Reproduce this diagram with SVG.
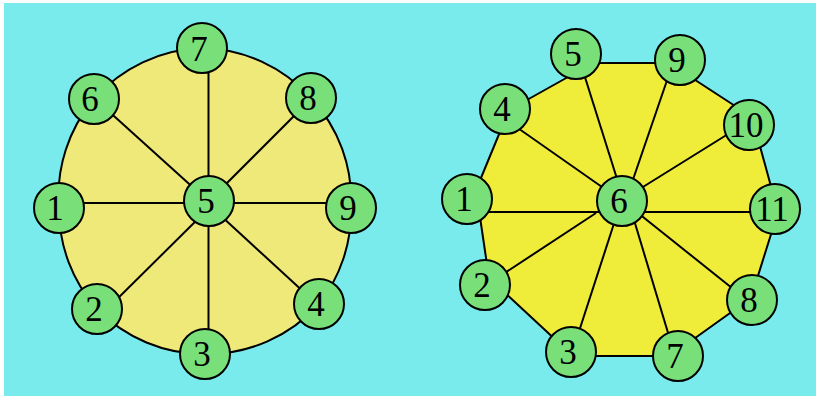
<svg xmlns="http://www.w3.org/2000/svg" width="816" height="396" viewBox="0 0 816 396">
<style>
.bg{fill:#79EBEC}
.shape{stroke:#000;stroke-width:2;stroke-linejoin:round}
.sp{stroke:#000;stroke-width:2;fill:none}
.nd circle{fill:#79E079;stroke:#000;stroke-width:2}
.nd text{font-family:"Liberation Serif","DejaVu Serif",serif;font-size:35px;fill:#000;text-anchor:middle}
</style>
<rect x="0" y="0" width="816" height="396" fill="#fff"/>
<rect class="bg" x="4" y="3" width="812" height="393"/>
<!-- left wheel body -->
<path id="left-body" class="shape" fill="#EFE97A" d="M202,48 A150,150 0 0 1 311,98 A150,150 0 0 1 351,208 A150,150 0 0 1 319,304 A150,150 0 0 1 205,354 A150,150 0 0 1 97,309 A150,150 0 0 1 59,208 A150,150 0 0 1 94,99 A150,150 0 0 1 202,48 Z"/>
<!-- right wheel body -->
<polygon id="right-body" class="shape" fill="#F0EC3A" points="593,63 669,63 752,117 778,212 751,298 670,356 573,356 489,278 476,190 509,110"/>
<g id="connectors">
  <line class="sp" x1="59" y1="203" x2="209" y2="203"/>
  <line class="sp" x1="209" y1="203" x2="351" y2="203"/>
  <line class="sp" x1="208.5" y1="48" x2="208.5" y2="201"/>
  <line class="sp" x1="208.5" y1="201" x2="208.5" y2="354"/>
  <line class="sp" x1="94" y1="98" x2="208" y2="201"/>
  <line class="sp" x1="208" y1="202" x2="311" y2="99"/>
  <line class="sp" x1="208" y1="209" x2="100" y2="316"/>
  <line class="sp" x1="208" y1="204" x2="319" y2="306"/>
  <line class="sp" x1="467" y1="212" x2="622" y2="212"/>
  <line class="sp" x1="622" y1="212" x2="775" y2="212"/>
  <line class="sp" x1="505" y1="119" x2="622" y2="201"/>
  <line class="sp" x1="578" y1="55" x2="624" y2="201"/>
  <line class="sp" x1="674" y1="60" x2="627" y2="197"/>
  <line class="sp" x1="749" y1="121" x2="622" y2="200"/>
  <line class="sp" x1="596" y1="213" x2="485" y2="286"/>
  <line class="sp" x1="620" y1="205" x2="572" y2="353"/>
  <line class="sp" x1="628" y1="200" x2="675" y2="356"/>
  <line class="sp" x1="628" y1="205" x2="752" y2="304"/>
</g>
<!-- left nodes -->
<g id="L5" class="nd"><circle cx="209" cy="201" r="25"/><text x="206" y="213">5</text></g>
<g id="L7" class="nd"><circle cx="202" cy="48" r="25"/><text x="199" y="61">7</text></g>
<g id="L6" class="nd"><circle cx="94" cy="99" r="25"/><text x="90" y="111">6</text></g>
<g id="L8" class="nd"><circle cx="311" cy="98" r="25"/><text x="308" y="110">8</text></g>
<g id="L1" class="nd"><circle cx="59" cy="208" r="25"/><text x="55" y="220">1</text></g>
<g id="L9" class="nd"><circle cx="351" cy="208" r="25"/><text x="348" y="220">9</text></g>
<g id="L2" class="nd"><circle cx="97" cy="309" r="25"/><text x="94" y="321">2</text></g>
<g id="L3" class="nd"><circle cx="205" cy="354" r="25"/><text x="202" y="366">3</text></g>
<g id="L4" class="nd"><circle cx="319" cy="304" r="25"/><text x="316" y="316">4</text></g>
<!-- right nodes -->
<g id="R6" class="nd"><circle cx="622" cy="201" r="25"/><text x="619" y="213">6</text></g>
<g id="R5" class="nd"><circle cx="576" cy="54" r="25"/><text x="573" y="66">5</text></g>
<g id="R9" class="nd"><circle cx="680" cy="60" r="25"/><text x="677" y="72">9</text></g>
<g id="R4" class="nd"><circle cx="505" cy="109" r="25"/><text x="502" y="121">4</text></g>
<g id="R10" class="nd"><circle cx="749" cy="125" r="25"/><text x="746" y="137">10</text></g>
<g id="R1" class="nd"><circle cx="467" cy="199" r="25"/><text x="464" y="211">1</text></g>
<g id="R11" class="nd"><circle cx="775" cy="209" r="25"/><text x="772" y="221">11</text></g>
<g id="R2" class="nd"><circle cx="485" cy="285" r="25"/><text x="482" y="297">2</text></g>
<g id="R3" class="nd"><circle cx="571" cy="352" r="25"/><text x="568" y="364">3</text></g>
<g id="R7" class="nd"><circle cx="678" cy="356" r="25"/><text x="675" y="368">7</text></g>
<g id="R8" class="nd"><circle cx="752" cy="300" r="25"/><text x="749" y="312">8</text></g>
</svg>
